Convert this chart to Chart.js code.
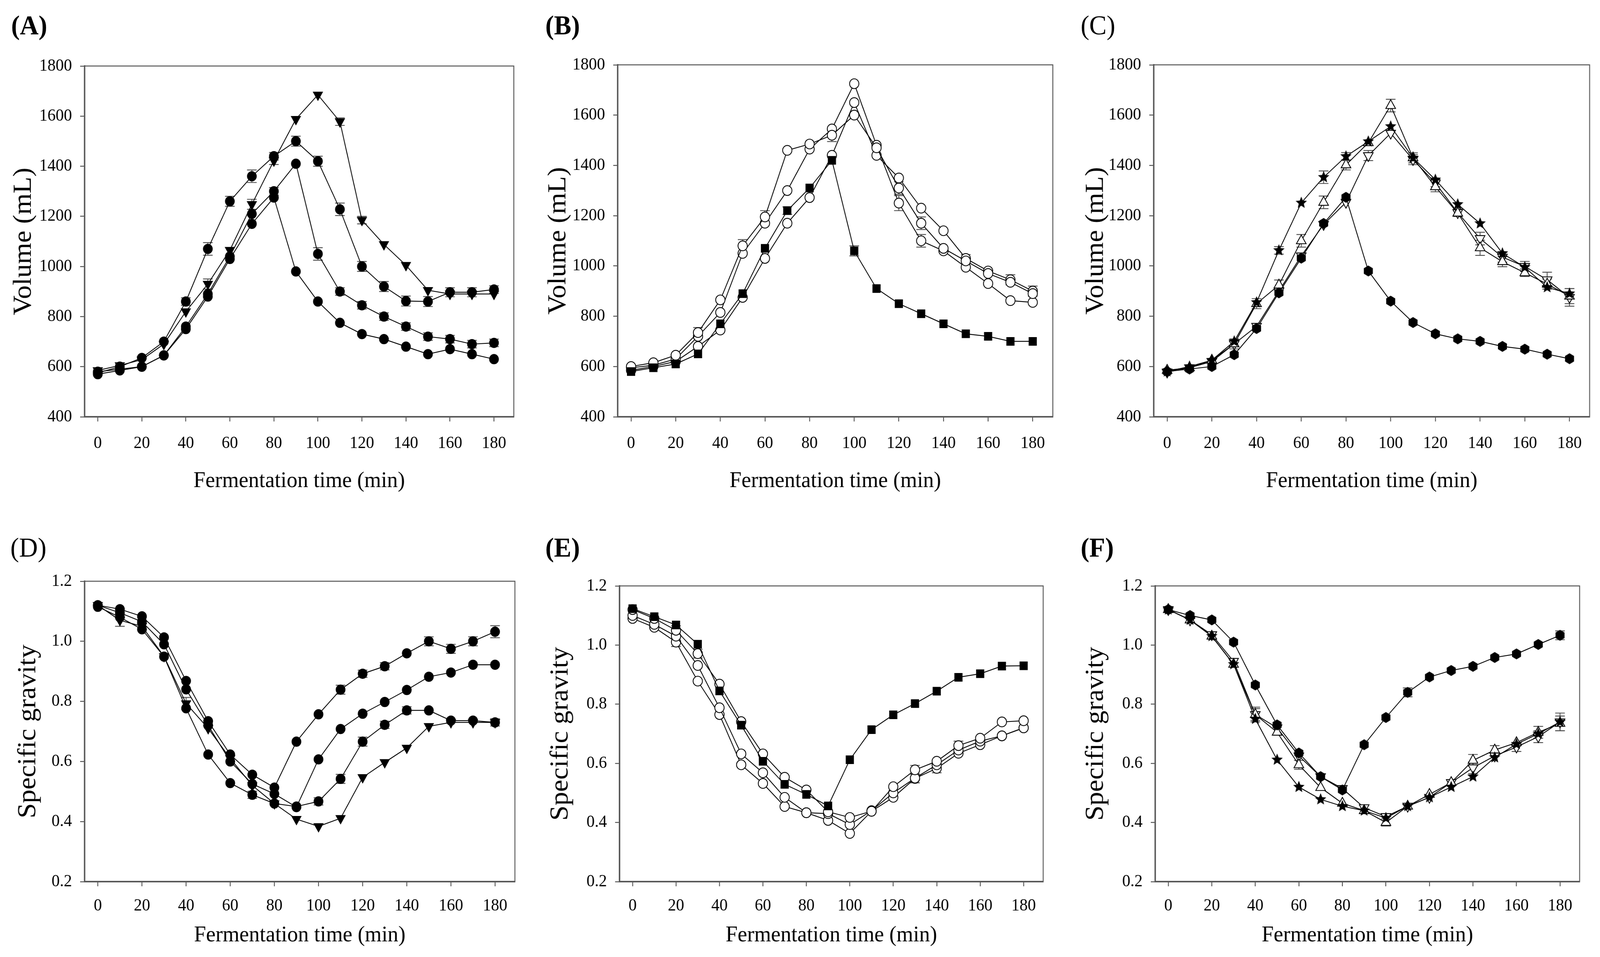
<!DOCTYPE html>
<html>
<head>
<meta charset="utf-8">
<script src="https://cdn.jsdelivr.net/npm/chart.js@4.4.1/dist/chart.umd.min.js"></script>
<style>
  html, body { margin: 0; padding: 0; background: #fff; overflow: hidden; }
  #page { position: relative; width: 4313px; height: 2450px; overflow: hidden; background: #fff; transform-origin: 0 0; }
  canvas { position: absolute; }
  .tag { position: absolute; font-family: "Liberation Serif", "Times New Roman", serif; font-size: 70px; line-height: 1; color: #000; }
</style>
</head>
<body>
<div id="page">
  <div class="tag" style="left:30px;top:30px;font-weight:bold">(A)</div>
  <div class="tag" style="left:1470px;top:30px;font-weight:bold">(B)</div>
  <div class="tag" style="left:2913px;top:30px">(C)</div>
  <div class="tag" style="left:28px;top:1367px">(D)</div>
  <div class="tag" style="left:1470px;top:1367px;font-weight:bold">(E)</div>
  <div class="tag" style="left:2913px;top:1367px;font-weight:bold">(F)</div>
  <canvas id="chartA"></canvas>
  <canvas id="chartB"></canvas>
  <canvas id="chartC"></canvas>
  <canvas id="chartD"></canvas>
  <canvas id="chartE"></canvas>
  <canvas id="chartF"></canvas>
</div>
<script>
// the figure is laid out at 4313 px wide; squeeze it into the window if it is narrower
const sx = Math.min(1, window.innerWidth / 4313);
document.getElementById('page').style.transform = 'scale(' + sx + ', 1)';

// sampling times and axis ticks
const timeMin = [0, 10, 20, 30, 40, 50, 60, 70, 80, 90, 100, 110, 120, 130, 140, 150, 160, 170, 180];
const timeTicks = [0, 20, 40, 60, 80, 100, 120, 140, 160, 180];
const volumeTicks = [400, 600, 800, 1000, 1200, 1400, 1600, 1800];
const gravityTicks = [0.2, 0.4, 0.6, 0.8, 1.0, 1.2];

// (A) volume, mL
const volA1 = [570, 585, 600, 645, 750, 880, 1030, 1170, 1275, 980, 860, 775, 730, 710, 680, 650, 670, 650, 630];
const volA2 = [580, 590, 600, 645, 760, 890, 1040, 1210, 1300, 1410, 1050, 900, 845, 800, 760, 720, 710, 690, 695];
const volA3 = [575, 600, 635, 700, 860, 1070, 1260, 1360, 1440, 1500, 1420, 1228, 1000, 920, 862, 860, 897, 897, 908];
const volA4 = [585, 605, 628, 690, 820, 930, 1065, 1248, 1422, 1588, 1685, 1578, 1185, 1088, 1005, 905, 890, 890, 890];
const errA2 = [0, 0, 0, 0, 0, 0, 0, 0, 15, 0, 25, 15, 15, 15, 15, 15, 15, 15, 15];
const errA3 = [0, 0, 0, 0, 15, 25, 20, 25, 15, 20, 20, 25, 20, 20, 20, 20, 18, 18, 15];
const errA4 = [0, 0, 0, 0, 0, 20, 0, 20, 15, 0, 0, 15, 15, 0, 0, 0, 0, 0, 0];

// (B) volume, mL
const volB1 = [580, 595, 610, 650, 770, 890, 1070, 1220, 1310, 1420, 1060, 910, 850, 810, 770, 730, 720, 700, 700];
const volB2 = [600, 615, 645, 735, 865, 1080, 1195, 1460, 1485, 1520, 1600, 1470, 1310, 1170, 1070, 1020, 970, 935, 890];
const volB3 = [595, 605, 630, 720, 815, 1050, 1170, 1300, 1465, 1545, 1725, 1480, 1250, 1100, 1060, 995, 930, 862, 855];
const volB4 = [585, 600, 620, 680, 745, 875, 1030, 1170, 1272, 1440, 1650, 1440, 1350, 1230, 1140, 1030, 980, 945, 900];
const errB1 = [0, 0, 0, 0, 0, 0, 0, 15, 0, 0, 20, 0, 0, 0, 0, 0, 0, 0, 0];
const errB2 = [0, 0, 0, 20, 0, 25, 25, 0, 0, 25, 0, 0, 25, 25, 0, 25, 0, 0, 0];
const errB3 = [0, 0, 0, 0, 0, 0, 0, 0, 0, 0, 0, 0, 30, 25, 0, 0, 0, 0, 0];
const errB4 = [0, 0, 0, 0, 0, 0, 0, 0, 0, 0, 0, 0, 0, 0, 0, 0, 0, 20, 20];

// (C) volume, mL
const volC1 = [580, 590, 600, 647, 751, 893, 1031, 1169, 1273, 980, 860, 775, 730, 710, 700, 680, 669, 649, 631];
const volC2 = [580, 600, 625, 700, 855, 1062, 1251, 1353, 1436, 1495, 1555, 1430, 1343, 1245, 1169, 1050, 995, 915, 890];
const volC3 = [585, 595, 625, 690, 850, 924, 1100, 1253, 1402, 1490, 1638, 1430, 1315, 1210, 1072, 1017, 973, 928, 880];
const volC4 = [578, 595, 620, 690, 760, 900, 1040, 1165, 1253, 1439, 1528, 1423, 1330, 1212, 1109, 1035, 998, 945, 875];
const errC2 = [0, 0, 0, 0, 0, 15, 0, 25, 15, 0, 0, 0, 0, 0, 0, 0, 0, 0, 0];
const errC3 = [0, 0, 0, 0, 20, 20, 25, 25, 20, 0, 25, 20, 20, 0, 30, 20, 15, 20, 30];
const errC4 = [0, 0, 0, 20, 0, 0, 0, 0, 0, 20, 0, 20, 15, 15, 25, 20, 20, 30, 35];

// (D) specific gravity
const sgD1 = [1.12, 1.107, 1.083, 1.013, 0.868, 0.734, 0.623, 0.556, 0.513, 0.666, 0.757, 0.839, 0.892, 0.917, 0.96, 1.0, 0.975, 1.0, 1.032];
const sgD2 = [1.12, 1.095, 1.065, 0.99, 0.84, 0.72, 0.60, 0.525, 0.492, 0.448, 0.607, 0.708, 0.759, 0.798, 0.838, 0.882, 0.896, 0.922, 0.922];
const sgD3 = [1.115, 1.08, 1.04, 0.949, 0.777, 0.623, 0.528, 0.489, 0.46, 0.45, 0.467, 0.542, 0.666, 0.722, 0.77, 0.77, 0.736, 0.736, 0.73];
const sgD4 = [1.12, 1.07, 1.05, 0.95, 0.793, 0.71, 0.61, 0.52, 0.46, 0.408, 0.384, 0.411, 0.547, 0.597, 0.645, 0.717, 0.73, 0.73, 0.73];
const errD1 = [0, 0, 0, 0, 0, 0, 0, 0, 0, 0, 0, 0.015, 0.012, 0.012, 0, 0.015, 0.015, 0.015, 0.02];
const errD3 = [0, 0, 0, 0, 0, 0, 0, 0.012, 0, 0, 0.012, 0.015, 0.015, 0.012, 0.012, 0, 0, 0, 0.012];
const errD4 = [0, 0.02, 0, 0, 0.02, 0, 0, 0, 0, 0, 0, 0, 0, 0, 0, 0, 0, 0, 0];

// (E) specific gravity
const sgE1 = [1.123, 1.096, 1.068, 1.003, 0.845, 0.729, 0.607, 0.529, 0.495, 0.456, 0.612, 0.714, 0.764, 0.802, 0.844, 0.891, 0.903, 0.929, 0.93];
const sgE2 = [1.12, 1.09, 1.05, 0.971, 0.868, 0.741, 0.632, 0.553, 0.51, 0.436, 0.417, 0.438, 0.521, 0.578, 0.607, 0.66, 0.685, 0.74, 0.744];
const sgE3 = [1.10, 1.07, 1.03, 0.931, 0.788, 0.632, 0.568, 0.485, 0.433, 0.43, 0.393, 0.44, 0.50, 0.55, 0.595, 0.645, 0.675, 0.693, 0.72];
const sgE4 = [1.09, 1.06, 1.01, 0.878, 0.765, 0.595, 0.532, 0.454, 0.433, 0.407, 0.363, 0.438, 0.485, 0.549, 0.583, 0.634, 0.663, 0.693, 0.72];
const errE2 = [0, 0, 0.015, 0.015, 0, 0, 0, 0, 0, 0, 0, 0, 0, 0.015, 0, 0.015, 0, 0, 0];
const errE4 = [0, 0, 0.015, 0, 0, 0, 0, 0, 0, 0, 0, 0, 0, 0.015, 0.015, 0, 0, 0, 0];

// (F) specific gravity
const sgF1 = [1.12, 1.10, 1.085, 1.01, 0.865, 0.73, 0.635, 0.555, 0.51, 0.663, 0.755, 0.84, 0.892, 0.914, 0.928, 0.958, 0.97, 1.002, 1.033];
const sgF2 = [1.12, 1.085, 1.03, 0.935, 0.75, 0.612, 0.52, 0.478, 0.455, 0.44, 0.415, 0.455, 0.485, 0.52, 0.555, 0.62, 0.665, 0.70, 0.74];
const sgF3 = [1.12, 1.085, 1.03, 0.935, 0.765, 0.705, 0.595, 0.518, 0.465, 0.44, 0.40, 0.455, 0.495, 0.535, 0.61, 0.645, 0.67, 0.705, 0.735];
const sgF4 = [1.12, 1.085, 1.035, 0.945, 0.765, 0.72, 0.625, 0.555, 0.515, 0.45, 0.42, 0.455, 0.485, 0.535, 0.585, 0.625, 0.655, 0.69, 0.74];
const errF1 = [0, 0, 0, 0, 0, 0, 0, 0, 0, 0, 0, 0.015, 0, 0, 0, 0, 0, 0, 0.015];
const errF3 = [0, 0, 0, 0, 0.025, 0, 0.015, 0, 0, 0, 0.012, 0, 0, 0, 0.02, 0.015, 0, 0.02, 0.025];
const errF4 = [0, 0, 0, 0, 0.02, 0, 0, 0, 0, 0, 0, 0, 0, 0, 0.02, 0, 0.015, 0.02, 0.03];

const serif = '"Liberation Serif", "Times New Roman", serif';

// filled marker drawn on a small canvas, for shapes Chart.js lacks
function makeMarker(r, corners, inner) {
  const c = document.createElement('canvas');
  c.width = c.height = r * 2 + 4;
  const g = c.getContext('2d');
  g.translate(r + 2, r + 2);
  g.beginPath();
  const n = inner ? corners * 2 : corners;
  for (let i = 0; i < n; i++) {
    const rad = inner && i % 2 ? r * inner : r;
    const a = -Math.PI / 2 + i * 2 * Math.PI / n;
    g.lineTo(rad * Math.cos(a), rad * Math.sin(a));
  }
  g.closePath();
  g.fillStyle = '#000';
  g.fill();
  return c;
}

const dot = { style: 'circle', fill: '#000', r: 12 };
const ring = { style: 'circle', fill: '#fff', r: 12.5 };
const block = { style: 'rect', fill: '#000', r: 14 };
const hexagon = { style: makeMarker(14, 6), fill: '#000', r: 14 };
const triDown = { style: 'triangle', fill: '#000', r: 14, rot: 180 };
const triUpOpen = { style: 'triangle', fill: '#fff', r: 15 };
const triDownOpen = { style: 'triangle', fill: '#fff', r: 15, rot: 180 };
const star = { style: makeMarker(16, 5, 0.45), fill: '#000', r: 16 };

function series(values, m, err) {
  return {
    data: timeMin.map((t, i) => ({ x: t, y: values[i] })),
    errorBars: err || null,
    borderColor: '#000',
    borderWidth: 2.2,
    pointStyle: m.style,
    pointRadius: m.r,
    pointRotation: m.rot || 0,
    pointBackgroundColor: m.fill,
    pointBorderColor: '#000',
    pointBorderWidth: 2.2,
    tension: 0,
    fill: false
  };
}

// standard error bars with caps, under the lines and markers
const errorBars = {
  id: 'errorBars',
  beforeDatasetsDraw(chart) {
    const ctx = chart.ctx, y = chart.scales.y;
    ctx.save();
    ctx.strokeStyle = '#4a4a4a';
    ctx.lineWidth = 2.2;
    chart.data.datasets.forEach((ds, di) => {
      if (!ds.errorBars) return;
      chart.getDatasetMeta(di).data.forEach((pt, i) => {
        const e = ds.errorBars[i];
        if (!e) return;
        const v = ds.data[i].y;
        const top = y.getPixelForValue(v + e), bot = y.getPixelForValue(v - e);
        ctx.beginPath();
        ctx.moveTo(pt.x, top); ctx.lineTo(pt.x, bot);
        ctx.moveTo(pt.x - 13, top); ctx.lineTo(pt.x + 13, top);
        ctx.moveTo(pt.x - 13, bot); ctx.lineTo(pt.x + 13, bot);
        ctx.stroke();
      });
    });
    ctx.restore();
  }
};

// box round the plot area
const frame = {
  id: 'frame',
  afterDatasetsDraw(chart) {
    const a = chart.chartArea, ctx = chart.ctx;
    ctx.save();
    ctx.strokeStyle = '#555';
    ctx.lineWidth = 2.5;
    ctx.strokeRect(a.left, a.top, a.right - a.left, a.bottom - a.top);
    ctx.restore();
  }
};

function createPanel(id, box, plot, datasets, yTicks, yTitle, yFmt, xPad) {
  const canvas = document.getElementById(id);
  canvas.width = box.r - box.l;
  canvas.height = box.b - box.t;
  canvas.style.left = box.l + 'px';
  canvas.style.top = box.t + 'px';

  new Chart(canvas.getContext('2d'), {
    type: 'line',
    data: { datasets: datasets },
    plugins: [errorBars, frame],
    options: {
      responsive: false,
      animation: false,
      devicePixelRatio: 1,
      layout: { padding: { left: 0, top: plot.t - box.t, right: box.r - plot.r, bottom: 0 } },
      plugins: { legend: { display: false }, tooltip: { enabled: false } },
      scales: {
        x: {
          type: 'linear',
          min: -6,
          max: 189,
          afterBuildTicks: s => { s.ticks = timeTicks.map(v => ({ value: v })); },
          afterFit: s => { s.height = box.b - plot.b; },
          grid: { drawOnChartArea: false, tickLength: 12, tickColor: '#333', tickWidth: 2 },
          border: { color: '#666', width: 4 },
          ticks: { font: { family: serif, size: 44 }, color: '#000', padding: xPad, maxRotation: 0, autoSkip: false },
          title: { display: true, text: 'Fermentation time (min)', font: { family: serif, size: 58 }, color: '#000', padding: { top: 0, bottom: 4 } }
        },
        y: {
          min: yTicks[0],
          max: yTicks[yTicks.length - 1],
          afterBuildTicks: s => { s.ticks = yTicks.map(v => ({ value: v })); },
          afterFit: s => { s.width = plot.l - box.l; },
          grid: { drawOnChartArea: false, tickLength: 12, tickColor: '#333', tickWidth: 2 },
          border: { color: '#666', width: 4 },
          ticks: { font: { family: serif, size: 44 }, color: '#000', padding: 22, callback: yFmt },
          title: { display: true, text: yTitle, font: { family: serif, size: 70 }, color: '#000', padding: { top: 4, bottom: 0 } }
        }
      }
    }
  });
}

const volFmt = v => String(v);
const sgFmt = v => v.toFixed(1);

createPanel('chartA', { l: 19, t: 100, r: 1430, b: 1271 }, { l: 228, t: 169, r: 1385, b: 1067 },
  [series(volA1, dot), series(volA2, dot, errA2), series(volA3, dot, errA3), series(volA4, triDown, errA4)],
  volumeTicks, 'Volume (mL)', volFmt, 30);
createPanel('chartB', { l: 1460, t: 100, r: 2880, b: 1271 }, { l: 1665, t: 166, r: 2838, b: 1067 },
  [series(volB1, block, errB1), series(volB2, ring, errB2), series(volB3, ring, errB3), series(volB4, ring, errB4)],
  volumeTicks, 'Volume (mL)', volFmt, 30);
createPanel('chartC', { l: 2909, t: 100, r: 4310, b: 1271 }, { l: 3110, t: 166, r: 4285, b: 1067 },
  [series(volC1, hexagon), series(volC2, star, errC2), series(volC3, triUpOpen, errC3), series(volC4, triDownOpen, errC4)],
  volumeTicks, 'Volume (mL)', volFmt, 30);

createPanel('chartD', { l: 31, t: 1420, r: 1430, b: 2434 }, { l: 228, t: 1488, r: 1388, b: 2257 },
  [series(sgD1, dot, errD1), series(sgD2, dot), series(sgD3, dot, errD3), series(sgD4, triDown, errD4)],
  gravityTicks, 'Specific gravity', sgFmt, 24);
createPanel('chartE', { l: 1466, t: 1420, r: 2870, b: 2434 }, { l: 1670, t: 1500, r: 2812, b: 2257 },
  [series(sgE1, block), series(sgE2, ring, errE2), series(sgE3, ring), series(sgE4, ring, errE4)],
  gravityTicks, 'Specific gravity', sgFmt, 24);
createPanel('chartF', { l: 2909, t: 1420, r: 4305, b: 2434 }, { l: 3114, t: 1500, r: 4258, b: 2257 },
  [series(sgF1, hexagon, errF1), series(sgF2, star), series(sgF3, triUpOpen, errF3), series(sgF4, triDownOpen, errF4)],
  gravityTicks, 'Specific gravity', sgFmt, 24);
</script>
</body>
</html>
